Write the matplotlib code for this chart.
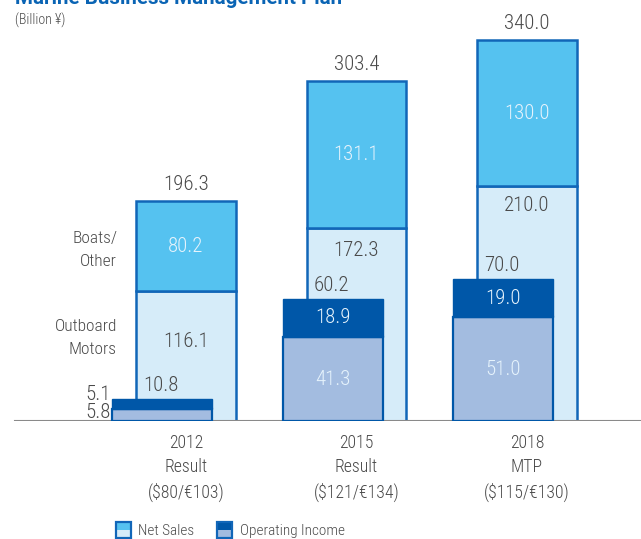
import matplotlib
matplotlib.use("Agg")
import matplotlib.pyplot as plt
from matplotlib.patches import Rectangle

plt.rcParams['font.family'] = ['Roboto Condensed', 'DejaVu Sans']
plt.rcParams['font.weight'] = 'light'

years = ['2012\nResult\n($80/€103)', '2015\nResult\n($121/€134)', '2018\nMTP\n($115/€130)']
outboard_sales = [116.1, 172.3, 210.0]
boats_sales = [80.2, 131.1, 130.0]
total_sales = [196.3, 303.4, 340.0]
outboard_income = [5.8, 41.3, 51.0]
boats_income = [5.1, 18.9, 19.0]
total_income = [10.8, 60.2, 70.0]

BORDER = '#1166b8'
BOATS = '#55c2f0'
OUTBOARD = '#d6ecf9'
INC_DARK = '#0057a8'
INC_GRAY = '#a3bce0'
TXT = '#4a4a4a'
LIGHT = '#e6f3fc'

fig = plt.figure(figsize=(6.41, 5.39), dpi=100)
ax = fig.add_axes([0, 0.2189, 1, 0.7811])
ax2 = ax.twinx()

x = [0, 1, 2]
w = 0.586
off = -0.14

ax.bar(x, outboard_sales, w, color=OUTBOARD, edgecolor=BORDER, linewidth=1.8)
ax.bar(x, boats_sales, w, bottom=outboard_sales, color=BOATS, edgecolor=BORDER, linewidth=1.8)

xi = [v + off for v in x]
ax2.bar(xi, outboard_income, w, color=INC_GRAY, edgecolor=INC_DARK, linewidth=1.6)
ax2.bar(xi, boats_income, w, bottom=outboard_income, color=INC_DARK, edgecolor=INC_DARK, linewidth=1.0)

for a in (ax, ax2):
    a.set_xlim(-1.091, 2.669)
    a.set_yticks([])
    for s in a.spines.values():
        s.set_visible(False)
ax.set_ylim(0, 376)
ax2.set_ylim(0, 207.4)

ax.axhline(0, xmin=0.023, xmax=1, color='#8a8a8a', linewidth=1.5, zorder=5)

ax.set_xticks(x)
ax.set_xticklabels(years, fontsize=12.8, color=TXT, linespacing=1.45)
ax.tick_params(axis='x', length=0, pad=9)

fs = 15
# net sales labels
outb_shift = [-36, -16, -14]
for i in x:
    ax.annotate(f'{total_sales[i]:.1f}', (i, total_sales[i]), xytext=(0, 5),
                textcoords='offset points', ha='center', va='bottom', fontsize=fs, color=TXT)
    ax.text(i, outboard_sales[i] + boats_sales[i] / 2, f'{boats_sales[i]:.1f}',
            ha='center', va='center', fontsize=fs, color=LIGHT)
    ax.annotate(f'{outboard_sales[i]:.1f}', (i, outboard_sales[i]), xytext=(0, outb_shift[i]),
                textcoords='offset points', ha='center', va='center', fontsize=fs, color=TXT)

# operating income labels
for i in x:
    ax2.annotate(f'{total_income[i]:.1f}', (i - w / 2, total_income[i]), xytext=(5, 3),
                 textcoords='offset points', ha='left', va='bottom', fontsize=fs, color=TXT)
    if i == 0:
        ax2.annotate(f'{boats_income[i]:.1f}', (xi[i] - w / 2, total_income[i]), xytext=(-1, 3.5),
                     textcoords='offset points', ha='right', va='center', fontsize=fs, color=TXT)
        ax2.annotate(f'{outboard_income[i]:.1f}', (xi[i] - w / 2, outboard_income[i] / 2),
                     xytext=(-1, 2), textcoords='offset points', ha='right', va='center',
                     fontsize=fs, color=TXT)
    else:
        ax2.text(xi[i], outboard_income[i] + boats_income[i] / 2, f'{boats_income[i]:.1f}',
                 ha='center', va='center', fontsize=fs, color=LIGHT)
        ax2.text(xi[i], outboard_income[i] / 2, f'{outboard_income[i]:.1f}',
                 ha='center', va='center', fontsize=fs, color=LIGHT)

# left segment names
fig.text(117 / 641, 1 - 250 / 539, 'Boats/\nOther', ha='right', va='center',
         fontsize=12.5, color=TXT, linespacing=1.6)
fig.text(117 / 641, 1 - 338 / 539, 'Outboard\nMotors', ha='right', va='center',
         fontsize=12.5, color=TXT, linespacing=1.6)

# title (clipped at top) and unit
fig.text(15 / 641, 1 - 4 / 539, 'Marine Business Management Plan', ha='left', va='baseline',
         fontsize=14.8, fontweight='bold', color='#0a64b4', family='Roboto')
fig.text(15 / 641, 1 - 20 / 539, '(Billion ¥)', ha='left', va='center', fontsize=10, color=TXT)

# legend
def icon(px, top_color, bottom_color):
    fig.add_artist(Rectangle((px / 641, 1 - 538 / 539), 15 / 641, 8 / 539,
                             transform=fig.transFigure, facecolor=bottom_color, edgecolor='none'))
    fig.add_artist(Rectangle((px / 641, 1 - 530 / 539), 15 / 641, 8 / 539,
                             transform=fig.transFigure, facecolor=top_color, edgecolor='none'))
    fig.add_artist(Rectangle((px / 641, 1 - 538 / 539), 15 / 641, 16 / 539,
                             transform=fig.transFigure, facecolor='none', edgecolor=BORDER,
                             linewidth=1.6))

icon(116, BOATS, OUTBOARD)
icon(217, INC_DARK, INC_GRAY)
fig.text(138 / 641, 1 - 531 / 539, 'Net Sales', ha='left', va='center', fontsize=11, color=TXT)
fig.text(240 / 641, 1 - 531 / 539, 'Operating Income', ha='left', va='center', fontsize=11, color=TXT)

fig.savefig('out.png', dpi=100)
